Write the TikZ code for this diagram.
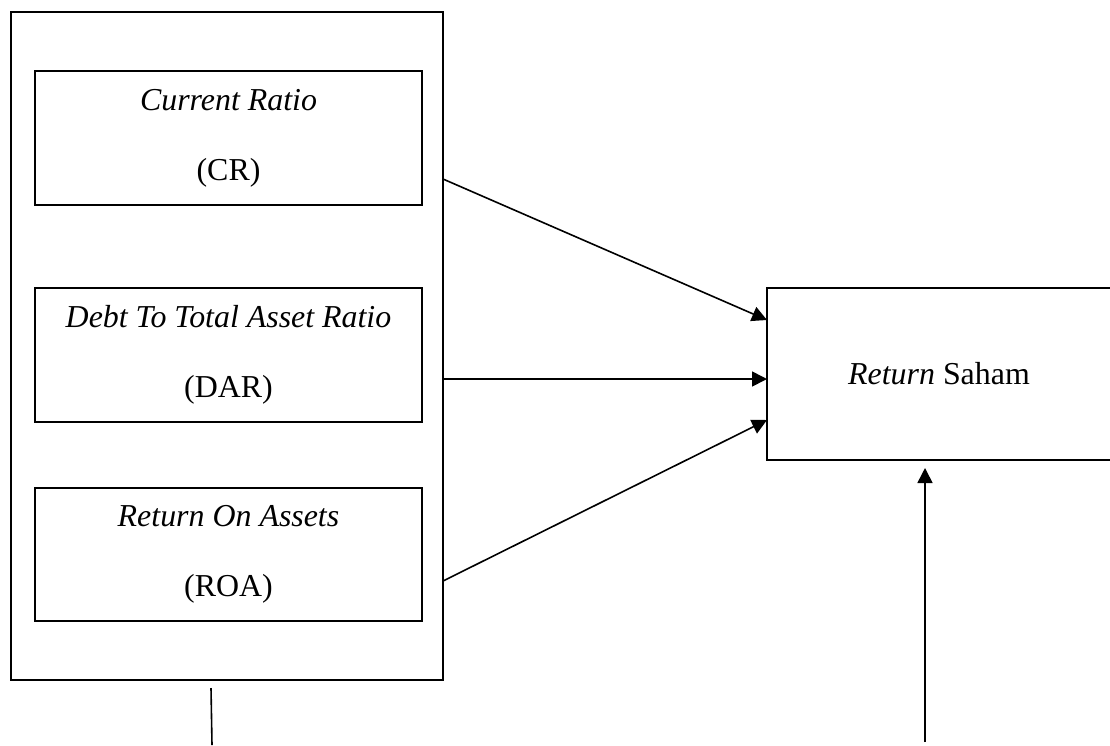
\documentclass[tikz,border=0pt]{standalone}
\usepackage{fontspec}
\setmainfont{Liberation Serif}
\usetikzlibrary{arrows.meta}
\tikzset{
  box/.style={draw, line width=1.6pt, rectangle, inner sep=0pt, align=center,
    font=\fontsize{31.9}{70}\selectfont},
  conn/.style={line width=1.6pt, -{Triangle[length=15pt,width=15pt]}},
  plain/.style={line width=1.6pt}
}
\begin{document}
\begin{tikzpicture}[x=1pt,y=-1pt]
\useasboundingbox (0,0) rectangle (1110,745);
\node[box, minimum width=432pt, minimum height=668pt] (outer) at (227,346) {};
\node[box, minimum width=387pt, minimum height=134pt] (cr) at (228.5,138) {\textit{Current Ratio}\\(CR)};
\node[box, minimum width=387pt, minimum height=134pt] (dar) at (228.5,355) {\textit{Debt To Total Asset Ratio}\\(DAR)};
\node[box, minimum width=387pt, minimum height=133pt] (roa) at (228.5,554.5) {\textit{Return On Assets}\\(ROA)};
\node[box, minimum width=344pt, minimum height=172pt] (rs) at (939,374) {\textit{Return} Saham};
% connector end points on the box borders
\coordinate (s1) at (443,179);
\coordinate (s2) at (443,379);
\coordinate (s3) at (443,581);
\coordinate (e1) at (767,320);
\coordinate (e2) at (767,379);
\coordinate (e3) at (767,420);
\draw[conn] (s1) -- (e1);
\draw[conn] (s2) -- (e2);
\draw[conn] (s3) -- (e3);
% bottom lines
\coordinate (l1a) at (211,688);
\coordinate (l1b) at (212,745);
\draw[plain] (l1a) -- (l1b);
\coordinate (l2a) at (925,742);
\coordinate (l2b) at (925,468);
\draw[conn] (l2a) -- (l2b);
\end{tikzpicture}
\end{document}
